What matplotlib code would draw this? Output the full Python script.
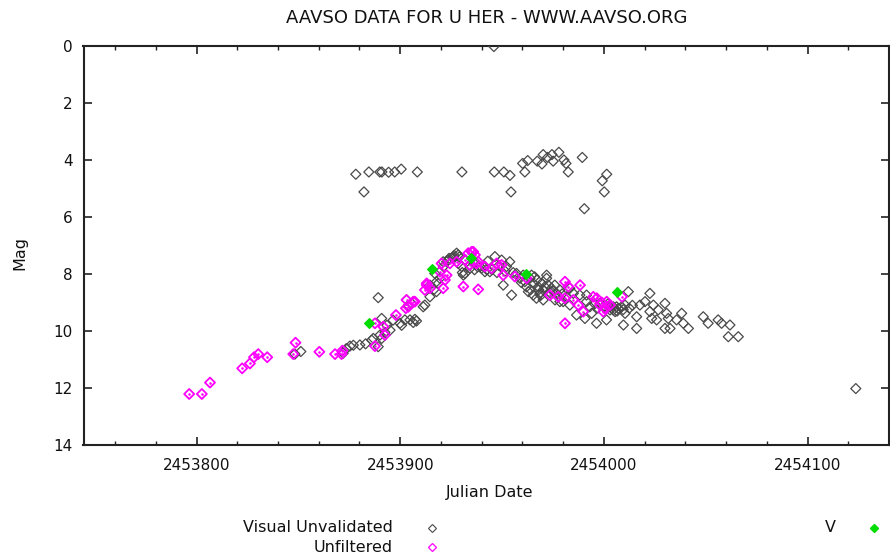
import numpy as np
import matplotlib
matplotlib.use("Agg")
import matplotlib.pyplot as plt
from matplotlib.ticker import MultipleLocator, FixedLocator

plt.rcParams['font.family'] = ['DejaVu Sans']

# Visual Unvalidated observations (Julian Date, magnitude)
vis_jd = [
    2453878.2, 2453882.2, 2453884.6, 2453890.0, 2453891.0, 2453894.3, 2453897.3, 2453900.5,
    2453908.4, 2453930.3, 2453946.2, 2453950.9, 2453953.9, 2453954.4, 2453960.1, 2453961.2,
    2453962.6, 2453967.3, 2453969.6, 2453970.2, 2453972.4, 2453974.5, 2453975.1, 2453977.9,
    2453980.4, 2453981.4, 2453982.5, 2453989.4, 2453990.4, 2453999.2, 2454001.4, 2454000.2,
    2453946.0, 2454123.7,
    2453848.3, 2453851.2, 2453872.0, 2453873.5, 2453875.3, 2453877.0, 2453880.2, 2453883.0,
    2453886.0, 2453886.8, 2453889.2, 2453890.1, 2453890.9, 2453892.5, 2453889.2, 2453890.9,
    2453893.5, 2453895.0, 2453896.5, 2453899.9, 2453900.7, 2453902.3, 2453903.1, 2453904.0,
    2453904.8, 2453905.6, 2453906.4, 2453907.2, 2453908.0, 2453911.3, 2453912.1, 2453914.6,
    2453914.6, 2453916.5, 2453917.8, 2453917.8, 2453918.7, 2453919.5, 2453917.0, 2453921.1,
    2453921.2, 2453922.8, 2453923.6, 2453924.0, 2453926.0, 2453926.1, 2453926.5, 2453927.7,
    2453928.5, 2453928.5, 2453929.0, 2453930.2, 2453930.5, 2453931.0, 2453931.8, 2453932.0,
    2453934.0, 2453934.3, 2453936.0, 2453938.0, 2453939.2, 2453939.9, 2453941.0, 2453941.6,
    2453943.0, 2453944.0, 2453945.0, 2453946.5, 2453947.5, 2453949.8, 2453950.6, 2453952.2,
    2453953.8, 2453954.7, 2453957.1, 2453958.8, 2453960.4, 2453961.2, 2453962.9, 2453963.7,
    2453964.5, 2453965.3, 2453965.3, 2453966.9, 2453967.1, 2453967.8, 2453968.6, 2453969.4,
    2453970.2, 2453970.2, 2453971.9, 2453971.9, 2453972.7, 2453974.3, 2453975.9, 2453976.0,
    2453976.8, 2453978.4, 2453978.4, 2453980.0, 2453981.7, 2453983.3, 2453983.3, 2453985.0,
    2453986.6, 2453988.2, 2453990.7, 2453991.5, 2453991.5, 2453993.1, 2453994.0, 2453996.4,
    2453998.1, 2453999.7, 2454001.3, 2454001.3, 2454003.0, 2454003.0, 2454004.6, 2454004.6,
    2454005.5, 2454006.2, 2454007.1, 2454008.7, 2454009.6, 2454010.4, 2454010.4, 2454012.0,
    2454016.1, 2454016.1, 2454017.7, 2454020.2, 2454022.6, 2454022.6, 2454023.5, 2454024.3,
    2454025.9, 2454026.7, 2454030.0, 2454030.0, 2454030.8, 2454031.6, 2454032.5, 2454035.7,
    2454038.2, 2454039.0, 2454041.5, 2454048.8, 2454051.2, 2454056.1, 2454057.8, 2454061.9,
    2454061.1, 2454066.0,
    2453959.5, 2453962.0, 2453964.0, 2453966.0, 2453968.0, 2453969.0, 2453971.0, 2453973.5,
    2453975.0, 2453977.5, 2453979.5, 2453995.5, 2453997.0, 2454002.0, 2454006.5, 2454009.5,
    2454012.5, 2454014.0, 2453936.5, 2453942.5, 2453948.5, 2453951.5, 2453955.5,
]
vis_mag = [
    4.50, 5.12, 4.42, 4.42, 4.42, 4.43, 4.42, 4.32,
    4.42, 4.42, 4.42, 4.42, 4.54, 5.12, 4.12, 4.42,
    4.02, 4.04, 4.14, 3.81, 3.91, 3.81, 4.04, 3.73,
    4.00, 4.12, 4.42, 3.91, 5.71, 4.73, 4.50, 5.12,
    0.02, 12.02,
    10.81, 10.72, 10.78, 10.62, 10.53, 10.50, 10.49, 10.45,
    10.32, 10.26, 10.55, 10.14, 10.26, 10.05, 8.83, 9.56,
    9.80, 9.97, 9.62, 9.73, 9.80, 9.61, 8.91, 9.10,
    9.61, 9.03, 9.70, 9.59, 9.65, 9.15, 9.09, 8.80,
    8.39, 8.55, 8.62, 8.27, 8.33, 8.15, 7.98, 7.57,
    7.74, 7.57, 7.51, 7.45, 7.39, 7.45, 7.35, 7.27,
    7.63, 7.33, 7.40, 7.74, 7.95, 8.04, 7.98, 7.50,
    7.70, 7.80, 7.60, 7.75, 7.74, 7.80, 7.70, 7.92,
    7.55, 7.92, 7.85, 7.39, 7.95, 7.51, 8.39, 7.74,
    7.57, 8.74, 7.98, 8.15, 8.04, 8.27, 8.62, 8.15,
    8.04, 8.33, 8.74, 8.85, 8.21, 8.45, 8.68, 8.33,
    8.56, 8.91, 8.15, 8.04, 8.39, 8.50, 8.39, 8.91,
    8.68, 8.56, 8.97, 8.97, 8.80, 9.09, 8.50, 8.68,
    9.44, 8.74, 9.56, 8.97, 8.74, 9.15, 9.38, 9.73,
    9.03, 9.15, 9.61, 9.20, 9.15, 9.26, 9.26, 9.15,
    9.32, 9.15, 9.21, 9.15, 9.79, 9.09, 9.38, 8.62,
    9.91, 9.50, 9.09, 8.97, 8.68, 9.32, 9.56, 9.09,
    9.61, 9.26, 9.03, 9.91, 9.38, 9.56, 9.91, 9.61,
    9.38, 9.73, 9.91, 9.50, 9.73, 9.61, 9.73, 9.79,
    10.20, 10.20,
    8.30, 8.45, 8.55, 8.10, 8.55, 8.75, 8.45, 8.65,
    8.60, 8.80, 8.70, 9.05, 9.20, 9.05, 9.30, 9.25,
    9.20, 9.10, 7.85, 7.85, 7.70, 7.90, 7.95,
]

# Unfiltered CCD observations
unf_jd = [
    2453796.4, 2453802.6, 2453806.6, 2453822.4, 2453826.2, 2453828.2, 2453830.3, 2453834.7,
    2453848.6, 2453847.5, 2453860.3, 2453868.0, 2453871.2, 2453871.6, 2453887.6, 2453887.6,
    2453891.7, 2453892.5, 2453897.9, 2453902.8, 2453903.1, 2453904.0, 2453906.4, 2453907.2,
    2453912.1, 2453913.0, 2453913.0, 2453914.6, 2453919.5, 2453920.3, 2453921.1, 2453922.0,
    2453922.8, 2453924.4, 2453927.7, 2453931.0, 2453931.8, 2453933.4, 2453934.2, 2453935.1,
    2453935.9, 2453936.7, 2453937.5, 2453938.3, 2453938.3, 2453941.6, 2453944.9, 2453947.3,
    2453949.8, 2453950.6, 2453956.3, 2453962.1, 2453973.5, 2453977.6, 2453980.9, 2453982.5,
    2453980.9, 2453985.0, 2453988.3, 2453987.4, 2453989.9, 2453994.8, 2453996.5, 2453998.1,
    2453999.7, 2454001.4, 2454003.0, 2453980.9, 2454008.9, 2453999.0, 2454000.5,
]
unf_mag = [
    12.21, 12.21, 11.81, 11.31, 11.14, 10.92, 10.81, 10.92,
    10.41, 10.81, 10.73, 10.81, 10.81, 10.69, 10.53, 9.73,
    9.85, 10.14, 9.44, 9.20, 8.91, 9.15, 8.97, 8.97,
    8.56, 8.39, 8.33, 8.50, 7.92, 7.63, 8.50, 8.21,
    8.04, 7.63, 7.57, 8.44, 7.51, 7.27, 7.68, 7.22,
    7.22, 7.33, 7.63, 8.54, 7.57, 7.74, 7.80, 7.63,
    7.68, 8.04, 8.09, 8.15, 8.74, 8.80, 8.27, 8.44,
    8.85, 8.91, 8.39, 9.09, 9.32, 8.80, 8.85, 9.09,
    9.32, 8.97, 9.09, 9.73, 8.80, 9.00, 9.20,
]

# V band observations
v_jd = [2453884.5, 2453915.7, 2453934.7, 2453961.7, 2454006.4]
v_mag = [9.72, 7.82, 7.44, 8.00, 8.62]

x_ticks = [2453800, 2453900, 2454000, 2454100]
y_ticks = [0, 2, 4, 6, 8, 10, 12, 14]

W, H = 890, 559
fig = plt.figure(figsize=(W / 100, H / 100), dpi=100)
ax = fig.add_axes([83.5 / W, 1 - 445 / H, (889 - 83.5) / W, (445 - 46) / H])

gray = '#4a4a4a'
ax.scatter(vis_jd, vis_mag, marker='D', s=26, facecolors='none',
           edgecolors=gray, linewidths=0.9, zorder=3)
ax.scatter(unf_jd, unf_mag, marker='D', s=26, facecolors='none',
           edgecolors='#ff00ff', linewidths=1.3, zorder=4)
ax.scatter(unf_jd, unf_mag, marker='o', s=0.7, color='#ff00ff', zorder=4)
ax.scatter(v_jd, v_mag, marker='D', s=24, color='#00dd00', zorder=5)

ax.set_xlim(2453744.5, 2454140)
ax.set_ylim(14, 0)
ax.xaxis.set_major_locator(FixedLocator(x_ticks))
ax.xaxis.set_minor_locator(MultipleLocator(20))
ax.set_xticklabels([str(t) for t in x_ticks])
ax.yaxis.set_major_locator(FixedLocator(y_ticks))
ax.set_yticklabels([str(t) for t in y_ticks])

ax.tick_params(axis='both', which='both', direction='in', top=True, right=True,
               color='#222222', labelsize=11, labelcolor='#111111')
ax.tick_params(axis='x', which='major', length=6, width=1.2, pad=9)
ax.tick_params(axis='x', which='minor', length=3, width=1.0)
ax.tick_params(axis='y', which='major', length=6, width=1.2, pad=8)
for sp in ax.spines.values():
    sp.set_linewidth(1.5)
    sp.set_color('#222222')

fig.text(487 / W, 1 - 18 / H, 'AAVSO DATA FOR U HER - WWW.AAVSO.ORG',
         ha='center', va='center', fontsize=13, color='#111111')
fig.text(490 / W, 1 - 492 / H, 'Julian Date', ha='center', va='center',
         fontsize=11.5, color='#111111')
fig.text(20 / W, 1 - 253 / H, 'Mag', ha='center', va='center', rotation=90,
         fontsize=11.5, color='#111111')

# legend
leg_items = [
    ('Visual Unvalidated', 393, 432, 528, dict(marker='D', ms=4, mfc='none', mec=gray, mew=0.8)),
    ('Unfiltered', 393, 432, 547, dict(marker='D', ms=4, mfc='none', mec='#ff00ff', mew=0.9)),
    ('V', 836, 874, 528, dict(marker='D', ms=4, mfc='#00dd00', mec='#00dd00')),
]
for label, tx, mx, yy, style in leg_items:
    fig.text(tx / W, 1 - yy / H, label, ha='right', va='center',
             fontsize=11.5, color='#111111')
    ax.plot([mx / W], [1 - yy / H], transform=fig.transFigure, clip_on=False,
            linestyle='none', **style)

fig.savefig('out.png', dpi=100)
